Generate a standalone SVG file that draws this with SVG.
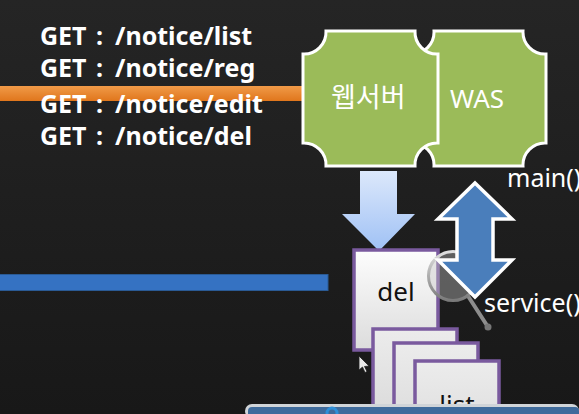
<svg xmlns="http://www.w3.org/2000/svg" width="579" height="414" viewBox="0 0 579 414">
<style>
.get{font-family:"Noto Sans","Noto Sans CJK KR",sans-serif;font-weight:700;font-size:25px;fill:#fff}
.lbl{font-family:"Noto Sans","Noto Sans CJK KR",sans-serif;font-size:25px;fill:#fff}
.dark{font-family:"Noto Sans",sans-serif;font-size:26px;fill:#111;text-anchor:middle}
.plaque{fill:#9bbb59;stroke:#fff;stroke-width:3}
.page{fill:url(#page);stroke:#7a5a9e;stroke-width:3.5}
.back{fill:url(#pageb);stroke:#7a5a9e;stroke-width:3.5}
</style>
<defs>
<linearGradient id="bg" x1="0" y1="0" x2="0" y2="1"><stop offset="0" stop-color="#252525"/><stop offset="1" stop-color="#181818"/></linearGradient>
<linearGradient id="page" x1="0" y1="0" x2="0" y2="1"><stop offset="0" stop-color="#fdfdfd"/><stop offset="1" stop-color="#dcdcdc"/></linearGradient>
<linearGradient id="pageb" x1="0" y1="0" x2="0" y2="1"><stop offset="0" stop-color="#ececec"/><stop offset="1" stop-color="#d8d8d8"/></linearGradient>
<linearGradient id="down" x1="0" y1="0" x2="0" y2="1"><stop offset="0" stop-color="#dce8fb"/><stop offset="1" stop-color="#9fc1f5"/></linearGradient>
<linearGradient id="orange" x1="0" y1="0" x2="0" y2="1"><stop offset="0" stop-color="#f09a48"/><stop offset="1" stop-color="#e0761c"/></linearGradient>
<linearGradient id="glass" x1="0" y1="0" x2="0" y2="1"><stop offset="0" stop-color="#e0e0e0"/><stop offset="1" stop-color="#7a7a7a"/></linearGradient>
</defs>
<rect width="579" height="414" fill="url(#bg)"/>
<rect x="0" y="86" width="306" height="15" fill="url(#orange)"/>
<rect x="-2" y="274.500" width="330" height="16" fill="#3572c2" stroke="#2a5a94"/>
<g id="requests">
<text class="get" x="40" y="45">GET<tspan x="96">:</tspan><tspan x="115">/notice/list</tspan></text>
<text class="get" x="40" y="77">GET<tspan x="96">:</tspan><tspan x="115">/notice/reg</tspan></text>
<text class="get" x="40" y="113">GET<tspan x="96">:</tspan><tspan x="115">/notice/edit</tspan></text>
<text class="get" x="40" y="145">GET<tspan x="96">:</tspan><tspan x="115">/notice/del</tspan></text>
</g>
<g id="was">
<path class="plaque" d="M434 31H523A22 22 0 0 0 546 54V143A22 22 0 0 0 523 166H434A22 22 0 0 0 411 143V54A22 22 0 0 0 434 31Z"/>
<text class="lbl" x="450" y="108" style="font-size:26px">WAS</text>
</g>
<g id="webserver">
<path class="plaque" d="M326 31H415A22 22 0 0 0 438 54V143A22 22 0 0 0 415 166H326A22 22 0 0 0 303 143V54A22 22 0 0 0 326 31Z"/>
<text class="lbl" x="331" y="107" style="font-family:'Noto Sans CJK KR','Noto Sans',sans-serif;font-size:27px">웹서버</text>
</g>
<g id="connectors">
<path d="M360 171H397V214H415L379 251L342 214H360Z" fill="url(#down)"/>
</g>
<g id="page-del">
<rect class="page" x="354" y="250" width="84" height="100"/>
<text class="dark" x="396" y="301">del</text>
</g>
<g id="magnifier">
<path d="M468 296L488 327" stroke="#8d8d8d" stroke-width="4" stroke-linecap="round"/>
<circle cx="488" cy="327" r="3.500" fill="#777"/>
<circle cx="453" cy="276" r="24.500" fill="#c4c4c4" fill-opacity=".4" stroke="url(#glass)" stroke-width="3"/>
</g>
<path d="M475 183L512 219H493V260H512L475 297L438 260H457V219H438Z" fill="#4a7ebb" stroke="#fff" stroke-width="3.500"/>
<text class="lbl" x="507" y="187">main()</text>
<text class="lbl" x="484" y="312">service()</text>
<g id="page-2"><rect class="back" x="373" y="329" width="84" height="100"/></g>
<g id="page-3"><rect class="back" x="394" y="343" width="84" height="100"/></g>
<g id="page-list">
<rect class="back" x="415" y="361" width="84" height="100"/>
<text class="dark" x="457" y="414">list</text>
</g>
<path d="M359 356V370L362.500 367L365 372.500L367 371.500L364.500 366.500L369 366Z" fill="#e8e8e8" stroke="#222" stroke-width=".8"/>
<g id="taskbar">
<rect x="245" y="404" width="334" height="14" rx="7" fill="#d0d4d8"/>
<rect x="248" y="407" width="331" height="10" rx="4" fill="#3f6b9c"/>
<circle cx="332" cy="413" r="5" fill="none" stroke="#2f8fd8" stroke-width="3"/>
</g>
</svg>
